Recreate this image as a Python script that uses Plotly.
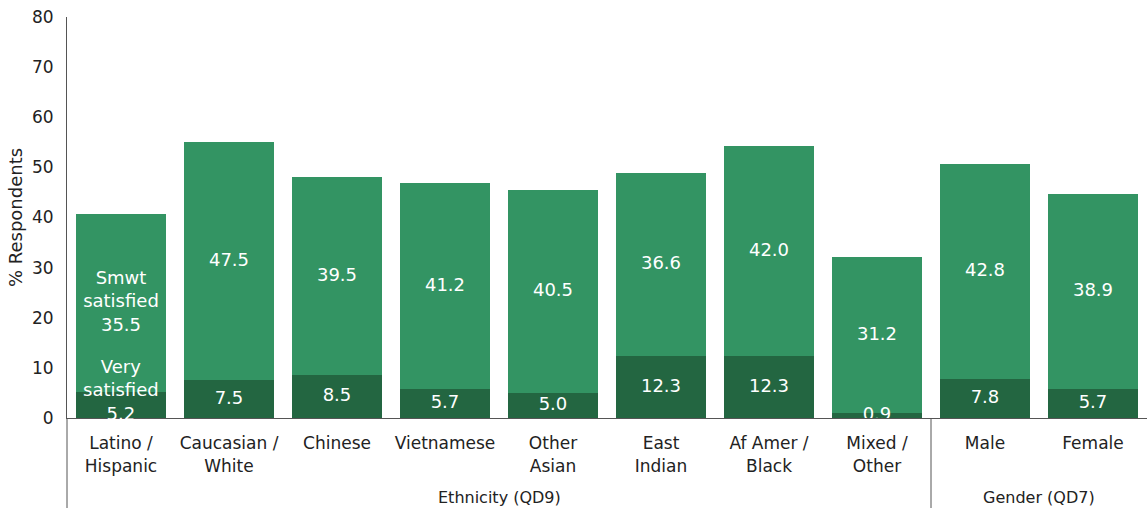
import plotly.graph_objects as go

categories = ["Latino /<br>Hispanic", "Caucasian /<br>White", "Chinese", "Vietnamese",
              "Other<br>Asian", "East<br>Indian", "Af Amer /<br>Black", "Mixed /<br>Other",
              "Male", "Female"]
very_satisfied = [5.2, 7.5, 8.5, 5.7, 5.0, 12.3, 12.3, 0.9, 7.8, 5.7]
smwt_satisfied = [35.5, 47.5, 39.5, 41.2, 40.5, 36.6, 42.0, 31.2, 42.8, 38.9]
groups = ["Ethnicity (QD9)", "Gender (QD7)"]
group_members = [8, 2]

DARK = "#236641"
LIGHT = "#339463"
AXIS = "#555555"
FONT = "DejaVu Sans"
TXT = "#222222"

idx = list(range(len(categories)))
bw = 0.84

fig = go.Figure()
fig.add_trace(go.Bar(x=idx, y=very_satisfied, marker_color=DARK, width=bw,
                     marker_line_width=0, hoverinfo="skip"))
fig.add_trace(go.Bar(x=idx, y=smwt_satisfied, marker_color=LIGHT, width=bw,
                     marker_line_width=0, hoverinfo="skip"))

# labels for the light segments
smwt_mid = [v + s / 2 for v, s in zip(very_satisfied, smwt_satisfied)]
smwt_txt = [f"{s:.1f}" for s in smwt_satisfied]
smwt_txt[0] = "Smwt<br>satisfied<br>" + smwt_txt[0]
fig.add_trace(go.Scatter(x=idx, y=smwt_mid, mode="text", text=smwt_txt,
                         textposition="middle center", cliponaxis=True,
                         textfont=dict(family=FONT, size=18, color="white"),
                         hoverinfo="skip"))

# labels for the dark segments
very_mid = [v / 2 for v in very_satisfied]
fig.add_trace(go.Scatter(x=idx[1:], y=very_mid[1:], mode="text",
                         text=[f"{v:.1f}" for v in very_satisfied[1:]],
                         textposition="middle center", cliponaxis=True,
                         textfont=dict(family=FONT, size=18, color="white"),
                         hoverinfo="skip"))

ext = 90 / 401
shapes = [
    dict(type="line", xref="paper", yref="paper", x0=0, x1=0, y0=0, y1=-ext,
         line=dict(color=AXIS, width=1)),
]
annotations = [
    # first bar's dark-segment label sits on the baseline
    dict(x=idx[0], y=0, xref="x", yref="y", yanchor="bottom", yshift=-8,
         text=f"Very<br>satisfied<br>{very_satisfied[0]:.1f}", showarrow=False,
         font=dict(family=FONT, size=18, color="white")),
]
start = 0
for gi, (g, n) in enumerate(zip(groups, group_members)):
    end = start + n
    if gi < len(groups) - 1:
        shapes.append(dict(type="line", xref="x", yref="paper", x0=end - 0.5, x1=end - 0.5,
                           y0=0, y1=-ext, line=dict(color=AXIS, width=1)))
    annotations.append(dict(x=(start + end - 1) / 2, y=-(497 - 418) / 401, xref="x", yref="paper",
                            text=g, showarrow=False, yanchor="middle",
                            font=dict(family=FONT, size=16, color=TXT)))
    start = end

fig.update_layout(
    width=1147, height=511,
    margin=dict(l=67, r=0, t=17, b=93),
    barmode="stack",
    bargap=0,
    plot_bgcolor="white", paper_bgcolor="white",
    showlegend=False,
    shapes=shapes,
    annotations=annotations,
    font=dict(family=FONT, size=16, color=TXT),
    xaxis=dict(range=[-0.5, 9.5], tickvals=idx, ticktext=categories,
               showline=True, linecolor=AXIS, linewidth=1, showgrid=False, zeroline=False,
               ticks="outside", ticklen=10, tickcolor="rgba(0,0,0,0)",
               tickfont=dict(family=FONT, size=17, color=TXT)),
    yaxis=dict(range=[0, 80], dtick=10, showline=True, linecolor=AXIS, linewidth=1,
               showgrid=False, zeroline=False,
               ticks="outside", ticklen=9, tickcolor="rgba(0,0,0,0)",
               tickfont=dict(family=FONT, size=17, color=TXT),
               title=dict(text="% Respondents", standoff=4,
                          font=dict(family=FONT, size=18, color=TXT))),
)

fig.write_html("out.html")
